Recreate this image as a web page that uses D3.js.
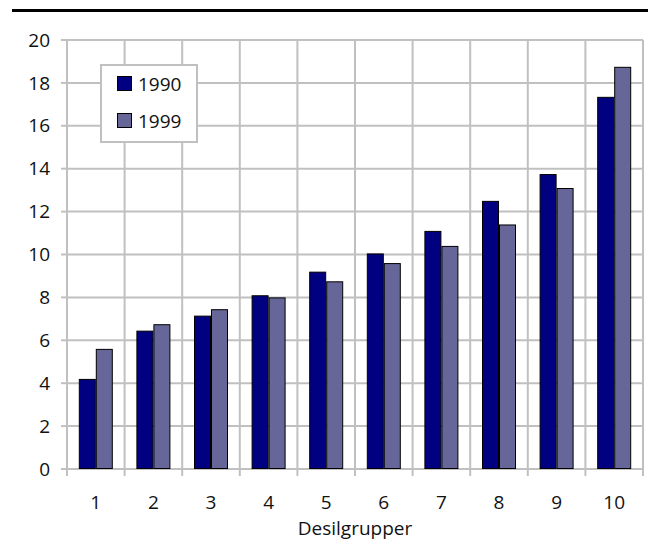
<!DOCTYPE html>
<html>
<head>
<meta charset="utf-8">
<script src="https://cdn.jsdelivr.net/npm/d3@7"></script>
<style>
  body { margin: 0; background: #fff; }
  svg text { font-family: "Open Sans", "Noto Sans", sans-serif; fill: #111; }
</style>
</head>
<body>
<div id="chart"></div>
<script>
// data
var groups = ['1', '2', '3', '4', '5', '6', '7', '8', '9', '10'];
var seriesNames = ['1990', '1999'];
var values1990 = [4.2, 6.45, 7.15, 8.1, 9.2, 10.05, 11.1, 12.5, 13.75, 17.35];
var values1999 = [5.6, 6.75, 7.45, 8.0, 8.75, 9.6, 10.4, 11.4, 13.1, 18.75];
var yTicks = [0, 2, 4, 6, 8, 10, 12, 14, 16, 18, 20];
var colors = ['#000080', '#666699'];

var width = 648, height = 541;
var margin = { top: 40, right: 5, bottom: 72, left: 67 };
var fontSize = 19;

var svg = d3.select('#chart').append('svg')
   .attr('width', width)
   .attr('height', height);

// thick rule across the top
svg.append('rect')
   .attr('x', 12).attr('y', 9)
   .attr('width', width - 12).attr('height', 3)
   .attr('fill', '#000');

var x = d3.scaleBand()
   .domain(groups)
   .range([margin.left, width - margin.right]);

var xInner = d3.scaleBand()
   .domain(seriesNames)
   .range([0, 34]);

var y = d3.scaleLinear()
   .domain([0, 20])
   .range([height - margin.bottom, margin.top]);

var grid = svg.append('g').attr('stroke', '#c0c0c0').attr('stroke-width', 2);

// horizontal grid
grid.selectAll('.hgrid')
   .data(yTicks)
   .enter().append('line')
   .attr('x1', margin.left).attr('x2', width - margin.right)
   .attr('y1', function(d) { return y(d); })
   .attr('y2', function(d) { return y(d); });

// vertical grid at the group borders
var borders = groups.map(function(g) { return x(g); }).concat([x.range()[1]]);
grid.selectAll('.vgrid')
   .data(borders)
   .enter().append('line')
   .attr('x1', function(d) { return d; }).attr('x2', function(d) { return d; })
   .attr('y1', y(20)).attr('y2', y(0) + 7);

// y tick marks
grid.selectAll('.ytick')
   .data(yTicks)
   .enter().append('line')
   .attr('x1', margin.left - 6).attr('x2', margin.left)
   .attr('y1', function(d) { return y(d); })
   .attr('y2', function(d) { return y(d); });

// y labels
svg.selectAll('.ylab')
   .data(yTicks)
   .enter().append('text')
   .attr('x', 50)
   .attr('y', function(d) { return y(d); })
   .attr('dy', '0.35em')
   .attr('text-anchor', 'end')
   .attr('font-size', fontSize)
   .text(function(d) { return d; });

// bars
var data = groups.map(function(g, i) {
   return { group: g, values: [values1990[i], values1999[i]] };
});

var gGroups = svg.selectAll('.grp')
   .data(data)
   .enter().append('g')
   .attr('transform', function(d) {
      return 'translate(' + (x(d.group) + (x.bandwidth() - 34) / 2) + ',0)';
   });

gGroups.selectAll('rect')
   .data(function(d) {
      return d.values.map(function(v, i) { return { name: seriesNames[i], value: v, i: i }; });
   })
   .enter().append('rect')
   .attr('x', function(d) { return xInner(d.name) + 0.5; })
   .attr('y', function(d) { return y(d.value) + 0.5; })
   .attr('width', xInner.bandwidth() - 1)
   .attr('height', function(d) { return y(0) - y(d.value) - 1; })
   .attr('fill', function(d) { return colors[d.i]; })
   .attr('stroke', '#000')
   .attr('stroke-width', 1);

// x labels
svg.selectAll('.xlab')
   .data(groups)
   .enter().append('text')
   .attr('x', function(d) { return x(d) + x.bandwidth() / 2; })
   .attr('y', 509)
   .attr('text-anchor', 'middle')
   .attr('font-size', fontSize)
   .text(function(d) { return d; });

svg.append('text')
   .attr('x', 355)
   .attr('y', 535)
   .attr('text-anchor', 'middle')
   .attr('font-size', fontSize)
   .text('Desilgrupper');

// legend
var legend = svg.append('g');
legend.append('rect')
   .attr('x', 101).attr('y', 65)
   .attr('width', 96).attr('height', 77)
   .attr('fill', '#fff')
   .attr('stroke', '#c0c0c0')
   .attr('stroke-width', 2);

var items = legend.selectAll('.item')
   .data(seriesNames)
   .enter().append('g')
   .attr('transform', function(d, i) { return 'translate(117,' + (76 + i * 37) + ')'; });

items.append('rect')
   .attr('x', 0.5).attr('y', 0.5)
   .attr('width', 14).attr('height', 14)
   .attr('fill', function(d, i) { return colors[i]; })
   .attr('stroke', '#000');

items.append('text')
   .attr('x', 21)
   .attr('y', 8)
   .attr('dy', '0.35em')
   .attr('font-size', fontSize)
   .text(function(d) { return d; });
</script>
</body>
</html>
